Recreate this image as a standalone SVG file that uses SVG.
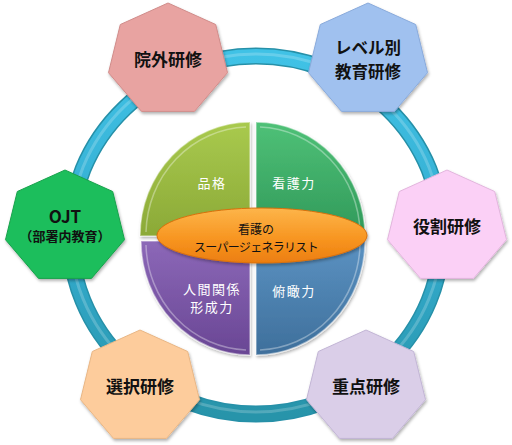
<svg xmlns="http://www.w3.org/2000/svg" width="512" height="445" viewBox="0 0 512 445">
<defs>
<style>
.lbl{font-family:"Noto Sans CJK JP","Noto Sans",sans-serif;font-weight:bold;font-size:17px;fill:#111;text-anchor:middle;dominant-baseline:central}
.two{font-size:16.5px}
.sub{font-size:13px}
.pie{font-family:"Noto Sans CJK JP","Noto Sans",sans-serif;font-size:13px;fill:#fff;text-anchor:middle;dominant-baseline:central;letter-spacing:1.5px}
.ctr{font-family:"Noto Sans CJK JP","Noto Sans",sans-serif;font-size:12px;fill:#111;text-anchor:middle;dominant-baseline:central}
.hept{stroke-width:1;filter:url(#sh)}
.q{stroke:rgba(255,255,255,0.45);stroke-width:1.5;filter:url(#sh)}
.hl{fill:none;stroke:rgba(255,255,255,0.35);stroke-width:1.5}
</style>
<filter id="sh" x="-20%" y="-20%" width="140%" height="140%">
<feDropShadow dx="1" dy="2" stdDeviation="1.5" flood-color="#000" flood-opacity="0.3"/>
</filter>
<linearGradient id="ringG" x1="0" y1="0" x2="0" y2="1">
<stop offset="0" stop-color="#40C2E6"/>
<stop offset="0.5" stop-color="#34ADD0"/>
<stop offset="1" stop-color="#2794AA"/>
</linearGradient>
<linearGradient id="gTL" x1="0" y1="0" x2="0" y2="1"><stop offset="0" stop-color="#A9CA4E"/><stop offset="1" stop-color="#8BA937"/></linearGradient>
<linearGradient id="gTR" x1="0" y1="0" x2="0" y2="1"><stop offset="0" stop-color="#4FC177"/><stop offset="1" stop-color="#30995A"/></linearGradient>
<linearGradient id="gBL" x1="0" y1="0" x2="0" y2="1"><stop offset="0" stop-color="#8C68B8"/><stop offset="1" stop-color="#694694"/></linearGradient>
<linearGradient id="gBR" x1="0" y1="0" x2="0" y2="1"><stop offset="0" stop-color="#5B92C2"/><stop offset="1" stop-color="#3E6F9B"/></linearGradient>
<linearGradient id="gOr" x1="0" y1="0" x2="0" y2="1"><stop offset="0" stop-color="#FDB54A"/><stop offset="0.6" stop-color="#F7931E"/><stop offset="1" stop-color="#EC7E10"/></linearGradient>
<polygon id="hp" points="0,-57 47.7,-35.5 59.5,12.7 26.5,51.4 -26.5,51.4 -59.5,12.7 -47.7,-35.5"/>
</defs>
<rect width="512" height="445" fill="#fff"/>
<g id="connectors">
<ellipse cx="256" cy="235" rx="186" ry="179" fill="none" stroke="#2690A8" stroke-width="17"/>
<ellipse cx="256" cy="235" rx="186" ry="179" fill="none" stroke="url(#ringG)" stroke-width="14"/>
<ellipse cx="256" cy="233" rx="186" ry="179" fill="none" stroke="rgba(255,255,255,0.2)" stroke-width="3"/>
</g>
<g id="center-pie">
<path class="q" d="M250,236 L140,236 A110,114 0 0 1 250,122 Z" fill="url(#gTL)"/>
<path class="hl" d="M146,232 A104,108 0 0 1 246,127"/>
<path class="q" d="M256,236 L256,122 A109,114 0 0 1 365,236 Z" fill="url(#gTR)"/>
<path class="hl" d="M260,127 A104,108 0 0 1 360,232"/>
<path class="q" d="M250,241 L250,355 A109,114 0 0 1 141,241 Z" fill="url(#gBL)"/>
<path class="hl" d="M246,350 A104,108 0 0 1 146,245"/>
<path class="q" d="M256,241 L365,241 A109,114 0 0 1 256,355 Z" fill="url(#gBR)"/>
<path class="hl" d="M360,245 A104,108 0 0 1 260,350"/>
<text class="pie" x="212" y="182">品格</text>
<text class="pie" x="294" y="182">看護力</text>
<text class="pie" x="212" y="288">人間関係</text>
<text class="pie" x="212" y="306">形成力</text>
<text class="pie" x="294" y="290">俯瞰力</text>
</g>
<g id="core">
<ellipse cx="262" cy="235.5" rx="105" ry="27.5" fill="url(#gOr)" stroke="#D9700C" stroke-width="1" filter="url(#sh)"/>
<text class="ctr" x="256" y="228">看護の</text>
<text class="ctr" x="256" y="246" style="letter-spacing:-0.7px">スーパージェネラリスト</text>
</g>
<g id="node-ingai" transform="translate(168,60)">
<use href="#hp" class="hept" fill="#E8A3A1" stroke="#D08C8A"/>
<text class="lbl" x="0" y="-2">院外研修</text>
</g>
<g id="node-level" transform="translate(368,60)">
<use href="#hp" class="hept" fill="#A0C1EF" stroke="#89AADB"/>
<text class="lbl two" x="0" y="-13">レベル別</text>
<text class="lbl two" x="0" y="11">教育研修</text>
</g>
<g id="node-yakuwari" transform="translate(447,227)">
<use href="#hp" class="hept" fill="#FBD0F6" stroke="#E2B5DD"/>
<text class="lbl" x="0" y="-2">役割研修</text>
</g>
<g id="node-ojt" transform="translate(65,227)">
<use href="#hp" class="hept" fill="#1FBE5B" stroke="#17A24C"/>
<text class="lbl" x="0" y="-12">OJT</text>
<text class="lbl sub" x="0" y="8">（部署内教育）</text>
</g>
<g id="node-sentaku" transform="translate(140,387)">
<use href="#hp" class="hept" fill="#FDCC9C" stroke="#E8B685"/>
<text class="lbl" x="0" y="-2">選択研修</text>
</g>
<g id="node-juten" transform="translate(366,387)">
<use href="#hp" class="hept" fill="#DACEE8" stroke="#C2B5D5"/>
<text class="lbl" x="0" y="-2">重点研修</text>
</g>
</svg>
